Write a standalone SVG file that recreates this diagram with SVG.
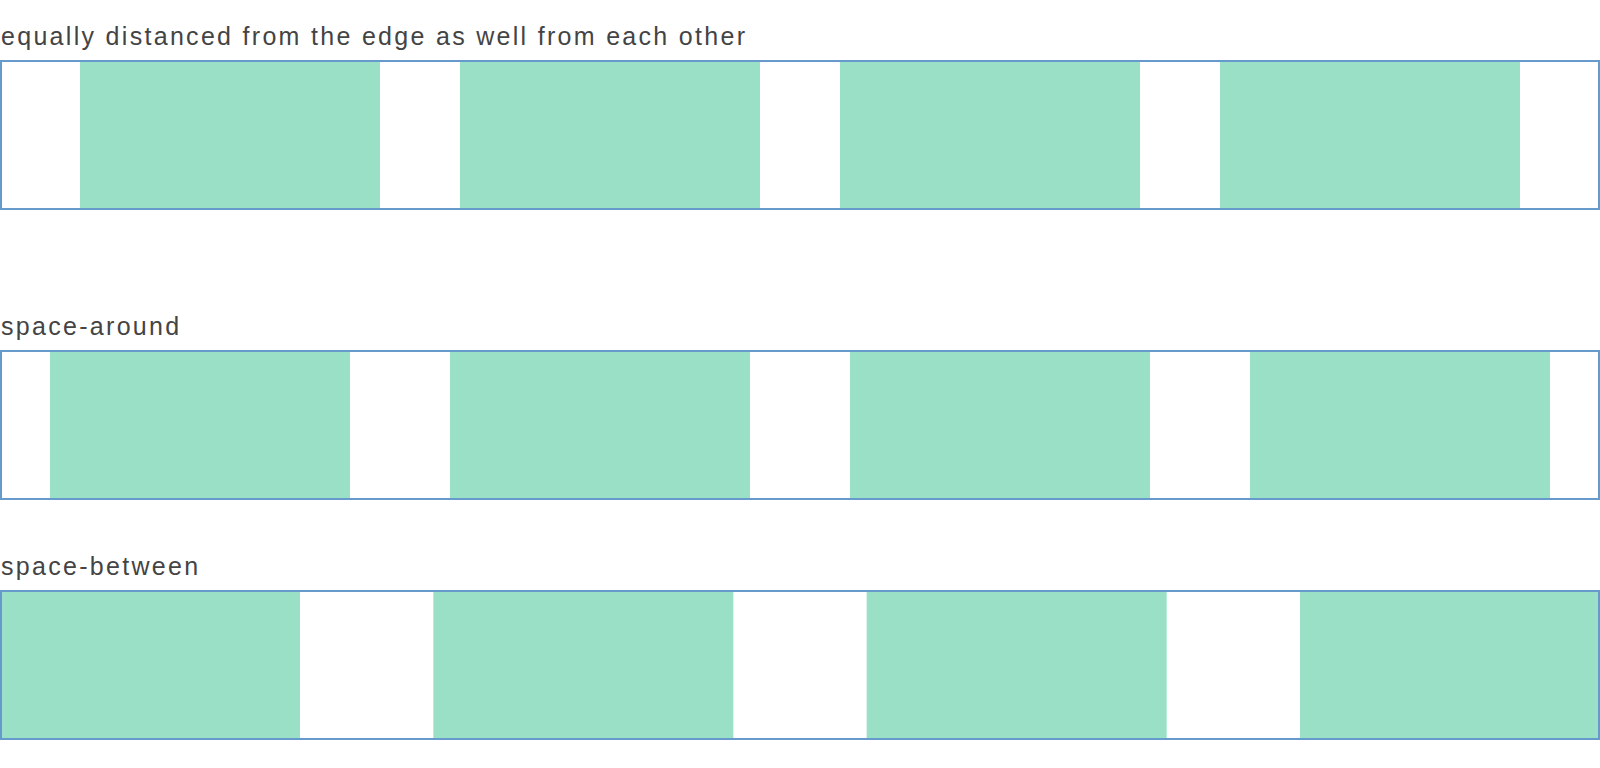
<svg xmlns="http://www.w3.org/2000/svg" width="1600" height="768" viewBox="0 0 1600 768">
<style>
.lbl{font-family:"Liberation Sans",Arial,sans-serif;font-size:25px;letter-spacing:2.3px;fill:#444444}
.item{fill:#99e0c6}
.box{fill:none;stroke:#6699cc;stroke-width:2}
</style>
<rect width="1600" height="768" fill="#ffffff"/>
<g id="row-equal">
<text class="lbl" x="1" y="45">equally distanced from the edge as well from each other</text>
<rect class="item" x="80" y="61" width="300" height="148"/>
<rect class="item" x="460" y="61" width="300" height="148"/>
<rect class="item" x="840" y="61" width="300" height="148"/>
<rect class="item" x="1220" y="61" width="300" height="148"/>
<rect class="box" x="1" y="61" width="1598" height="148"/>
</g>
<g id="row-around">
<text class="lbl" x="1" y="335">space-around</text>
<rect class="item" x="50" y="351" width="300" height="148"/>
<rect class="item" x="450" y="351" width="300" height="148"/>
<rect class="item" x="850" y="351" width="300" height="148"/>
<rect class="item" x="1250" y="351" width="300" height="148"/>
<rect class="box" x="1" y="351" width="1598" height="148"/>
</g>
<g id="row-between">
<text class="lbl" x="1" y="575">space-between</text>
<rect class="item" x="0" y="591" width="300" height="148"/>
<rect class="item" x="433.33" y="591" width="300" height="148"/>
<rect class="item" x="866.67" y="591" width="300" height="148"/>
<rect class="item" x="1300" y="591" width="300" height="148"/>
<rect class="box" x="1" y="591" width="1598" height="148"/>
</g>
</svg>
